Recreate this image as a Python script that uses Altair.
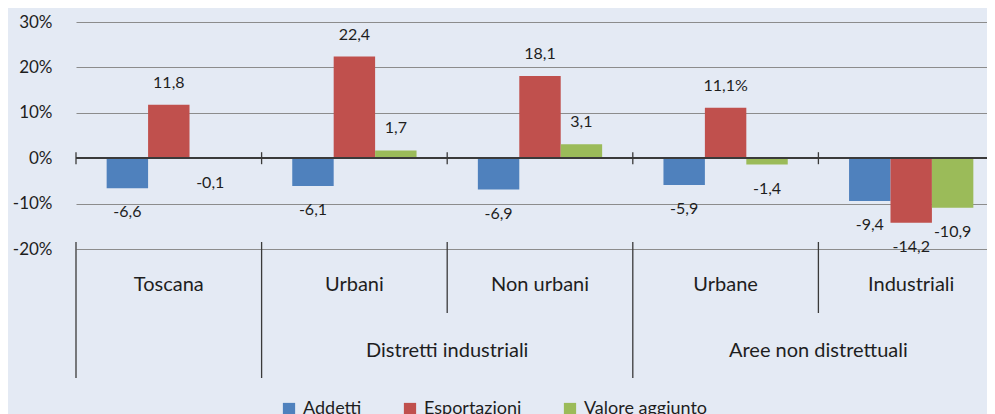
import altair as alt
import pandas as pd

categories = ["Toscana", "Urbani", "Non urbani", "Urbane", "Industriali"]
groups = ["", "Distretti industriali", "Distretti industriali",
          "Aree non distrettuali", "Aree non distrettuali"]
series = ["Addetti", "Esportazioni", "Valore aggiunto"]
addetti = [-6.6, -6.1, -6.9, -5.9, -9.4]
esportazioni = [11.8, 22.4, 18.1, 11.1, -14.2]
valore = [-0.1, 1.7, 3.1, -1.4, -10.9]
label_addetti = ["-6,6", "-6,1", "-6,9", "-5,9", "-9,4"]
label_esport = ["11,8", "22,4", "18,1", "11,1%", "-14,2"]
label_valore = ["-0,1", "1,7", "3,1", "-1,4", "-10,9"]
colors = ["#4F81BD", "#C0504D", "#9BBB59"]
y_ticks = [-20, -10, 0, 10, 20, 30]

FONT = "Lato"
TXT = "#1e1e1e"
W, H = 911, 227

rows = []
for s, vals, labs in zip(series, [addetti, esportazioni, valore],
                         [label_addetti, label_esport, label_valore]):
    for c, v, l in zip(categories, vals, labs):
        rows.append({"cat": c, "series": s, "v": v, "lab": l})
df = pd.DataFrame(rows)

bounds = []
for i, c in enumerate(categories):
    full = i == 0 or groups[i] != groups[i - 1]
    bounds.append({"cat": c, "full": full})
bdf = pd.DataFrame(bounds)

cdf = pd.DataFrame({"cat": categories})
gfirst = []
seen = set()
for c, g in zip(categories, groups):
    if g and g not in seen:
        seen.add(g)
        gfirst.append({"cat": c, "grp": g})
gdf = pd.DataFrame(gfirst)

xscale = alt.Scale(domain=categories, range=[0, 928], paddingInner=0, paddingOuter=0)
xenc = alt.X("cat:N", sort=categories, scale=xscale, axis=None)
xoff = alt.XOffset("series:N", sort=series,
                   scale=alt.Scale(domain=series, paddingOuter=0.74, paddingInner=0))
yscale = alt.Scale(domain=[-20, 30], nice=False, zero=False)
yaxis = alt.Axis(values=y_ticks, labelExpr="datum.value + '%'", grid=True,
                 gridColor="#8c8c8c", gridWidth=1, domain=False, ticks=False,
                 labelPadding=24, labelFontSize=17, labelFont=FONT,
                 labelColor=TXT, title=None)

base = alt.Chart(df)

bars = base.mark_bar().encode(
    x=xenc,
    xOffset=xoff,
    y=alt.Y("v:Q", scale=yscale, axis=yaxis),
    color=alt.Color("series:N", sort=series,
                    scale=alt.Scale(domain=series, range=colors),
                    legend=alt.Legend(orient="none", legendX=204, legendY=378,
                                      direction="horizontal", title=None,
                                      symbolType="square", symbolSize=150,
                                      symbolStrokeWidth=0, labelFontSize=18,
                                      labelFont=FONT, labelColor=TXT,
                                      columnPadding=39, labelOffset=5,
                                      padding=0, columns=3)),
)

zero = alt.Chart(df).mark_rule(color="#3a3a3a", strokeWidth=1.5).encode(
    y=alt.datum(0)
)

pos_lab = base.transform_filter("datum.v >= 0").mark_text(
    font=FONT, fontSize=16, color=TXT, baseline="middle", dy=-22
).encode(x=xenc, xOffset=xoff, y=alt.Y("v:Q", scale=yscale), text="lab:N")

neg_lab = base.transform_filter("datum.v < 0").mark_text(
    font=FONT, fontSize=16, color=TXT, baseline="middle", dy=24
).encode(x=xenc, xOffset=xoff, y=alt.Y("v:Q", scale=yscale), text="lab:N")

y0 = H * 30 / 50
ticks0 = alt.Chart(bdf).mark_rule(color="#3a3a3a", strokeWidth=1.3).encode(
    x=alt.X("cat:N", sort=categories, scale=xscale, axis=None, bandPosition=0),
    y=alt.value(y0 - 6), y2=alt.value(y0 + 6)
)

full_rules = alt.Chart(bdf).transform_filter("datum.full").mark_rule(
    color="#3a3a3a", strokeWidth=1.3).encode(
    x=alt.X("cat:N", sort=categories, scale=xscale, axis=None, bandPosition=0),
    y=alt.value(220), y2=alt.value(356)
)
short_rules = alt.Chart(bdf).transform_filter("!datum.full").mark_rule(
    color="#3a3a3a", strokeWidth=1.3).encode(
    x=alt.X("cat:N", sort=categories, scale=xscale, axis=None, bandPosition=0),
    y=alt.value(220), y2=alt.value(291)
)

cat_labels = alt.Chart(cdf).mark_text(
    font=FONT, fontSize=20, color=TXT, baseline="middle"
).encode(
    x=alt.X("cat:N", sort=categories, scale=xscale, axis=None, bandPosition=0.5),
    y=alt.value(263), text="cat:N"
)

grp_labels = alt.Chart(gdf).mark_text(
    font=FONT, fontSize=20, color=TXT, baseline="middle"
).encode(
    x=alt.X("cat:N", sort=categories, scale=xscale, axis=None, bandPosition=1),
    y=alt.value(329), text="grp:N"
)

chart = alt.layer(
    bars, zero, ticks0, full_rules, short_rules, pos_lab, neg_lab,
    cat_labels, grp_labels
).properties(
    width=W, height=H,
    autosize=alt.AutoSizeParams(type="none"),
    padding={"left": 68, "top": 14, "right": 0, "bottom": 165},
).configure(
    background="#E4EAF4"
).configure_view(
    stroke=None
)

chart.save("out.html", embed_options={"renderer": "svg", "actions": False})
